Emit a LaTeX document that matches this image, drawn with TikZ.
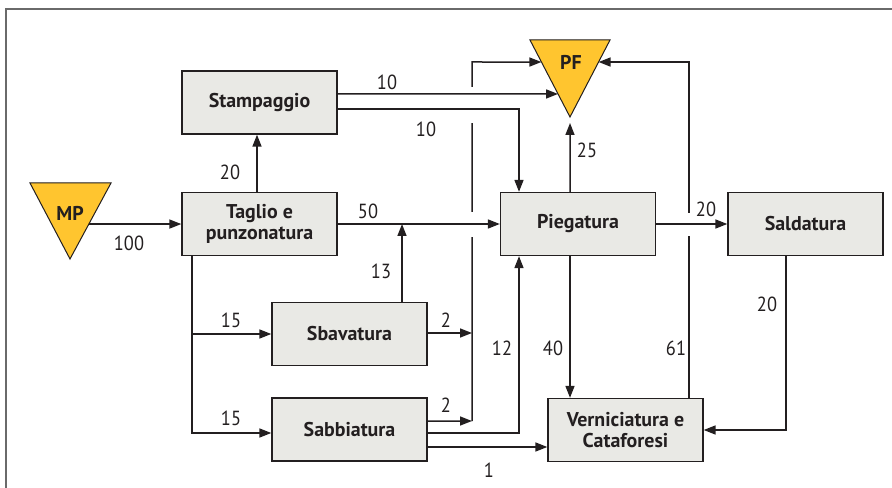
\documentclass[tikz,border=0pt]{standalone}
\usepackage{fontspec}
\setmainfont{PT Sans}
\newfontfamily\numfont[FakeStretch=0.9]{PT Sans}
\usetikzlibrary{arrows.meta,calc}
\definecolor{boxfill}{HTML}{E9E9E5}
\definecolor{tri}{HTML}{FFC52F}
\definecolor{ink}{HTML}{231F20}
\definecolor{framecol}{HTML}{6A6A6A}
\begin{document}
\begin{tikzpicture}[x=1bp,y=-1bp,
  proc/.style={draw=ink, fill=boxfill, line width=1.3bp, minimum width=155bp, minimum height=63bp, inner sep=0pt, font=\bfseries\fontsize{20}{21}\selectfont, align=center, text=ink},
  trilabel/.style={font=\bfseries\fontsize{20}{21}\selectfont, text=ink, inner sep=0pt},
  conn/.style={draw=ink, line width=1.5bp},
  arr/.style={conn, -{Triangle[length=12bp,width=9bp]}},
  num/.style={font=\numfont\fontsize{20.5}{21}\selectfont, text=ink, inner sep=0pt},
  gapfill/.style={fill=white, draw=none}]
\useasboundingbox (0,0) rectangle (892,488);
% frame
\draw[framecol, line width=1.5bp] (6,488) -- (6,9) -- (892,9);

% triangles
\coordinate (MPl) at (30,183); \coordinate (MPr) at (111,183); \coordinate (MPa) at (70,259);
\coordinate (PFl) at (530,40); \coordinate (PFr) at (610,40); \coordinate (PFa) at (570,117);
\filldraw[fill=tri, draw=ink, line width=1bp] (MPl) -- (MPr) -- (MPa) -- cycle;
\filldraw[fill=tri, draw=ink, line width=1bp] (PFl) -- (PFr) -- (PFa) -- cycle;
\node[trilabel] (MP) at (70,213) {MP};
\node[trilabel] (PF) at (571,62) {PF};

% boxes
\node[proc] (stamp) at (259.5,102.5) {Stampaggio};
\node[proc] (tag) at (259.5,224) {Taglio e\\punzonatura};
\node[proc] (pieg) at (578,224) {Piegatura};
\node[proc] (sald) at (805.5,224) {Saldatura};
\node[proc] (sbav) at (349.5,334) {Sbavatura};
\node[proc] (sabb) at (349.5,429.5) {Sabbiatura};
\node[proc] (vern) at (625.5,430) {Verniciatura e\\Cataforesi};

% helper coordinates
\coordinate (mpo) at ($(MPr)!0.54!(MPa)$);
\coordinate (pfL) at ($(PFl)!0.286!(PFa)$);
\coordinate (pfR) at ($(PFr)!0.286!(PFa)$);
\coordinate (pfM) at ($(PFl)!0.701!(PFa)$);
\coordinate (busB) at (472,421);
\coordinate (busT) at (472,62);

% lines that are interrupted at crossings
\draw[arr] (busB) -- (busT) -- (pfL);
\draw[arr] ([xshift=63.5bp]vern.north) |- (pfR);
\fill[gapfill] (468,87) rectangle (476,123);
\fill[gapfill] (468,212) rectangle (476,237);
\fill[gapfill] (685,213) rectangle (693,236);

% connectors
\draw[arr] (mpo) -- (mpo -| tag.west);
\draw[arr] ([xshift=-2.5bp]tag.north) -- ([xshift=-2.5bp]stamp.south);
\draw[arr] ([yshift=8.5bp]stamp.east) -- (pfM);
\draw[arr] ([yshift=-6.5bp]stamp.east) -| ([xshift=-59bp]pieg.north);
\draw[arr] (tag.east) -- (pieg.west);
\draw[arr] ([xshift=52.5bp]sbav.north) -- ([xshift=52.5bp]sbav.north |- tag.east);
\draw[arr] ([yshift=1bp]sbav.east) -- ([yshift=1bp]sbav.east -| busB);
\draw[arr] ([yshift=8.5bp]sabb.east) -- (busB);
\draw[arr] ([yshift=-3.5bp]sabb.east) -| ([xshift=-59bp]pieg.south);
\draw[arr] ([yshift=-17.5bp]sabb.east) -- ([yshift=-17.5bp]sabb.east -| vern.west);
\draw[arr] ([xshift=-8bp]pieg.north) -- ([yshift=-6bp]PFa);
\draw[arr] ([xshift=-8bp]pieg.south) -- ([xshift=-8bp]pieg.south |- vern.north);
\draw[arr] (pieg.east) -- (sald.west);
\draw[arr] ([xshift=-19.5bp]sald.south) |- (vern.east);
\draw[arr] ([xshift=-67.5bp]tag.south) |- ([yshift=-3.5bp]sabb.west);
\draw[arr] (sbav.west -| tag.south) ++(-67.5,0) -- (sbav.west);

% labels
\node[num] (l100) at (129,243) {100};
\node[num] (l20a) at (230,172) {20};
\node[num] (l10a) at (387,82) {10};
\node[num] (l10b) at (426,129) {10};
\node[num] (l50) at (368,211) {50};
\node[num] (l13) at (381,271) {13};
\node[num] (l15a) at (231,320) {15};
\node[num] (l15b) at (231,418) {15};
\node[num] (l2a) at (446,320) {2};
\node[num] (l2b) at (446,405) {2};
\node[num] (l12) at (502,348) {12};
\node[num] (l40) at (553,348) {40};
\node[num] (l1) at (489,470) {1};
\node[num] (l25) at (587,150) {25};
\node[num] (l20b) at (706,209) {20};
\node[num] (l20c) at (767,304) {20};
\node[num] (l61) at (676,348) {61};
\end{tikzpicture}
\end{document}
